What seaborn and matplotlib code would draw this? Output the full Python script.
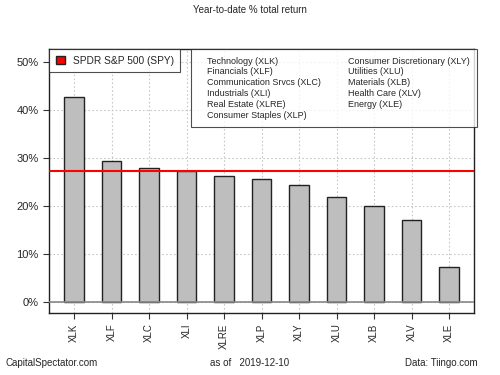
import matplotlib
matplotlib.use("Agg")
import matplotlib.pyplot as plt
import matplotlib.patches as mpatches
import matplotlib.lines as mlines
import seaborn as sns
import pandas as pd
from matplotlib.ticker import FuncFormatter

tickers = ["XLK", "XLF", "XLC", "XLI", "XLRE", "XLP", "XLY", "XLU", "XLB", "XLV", "XLE"]
returns = [42.6, 29.4, 27.9, 27.3, 26.2, 25.6, 24.3, 21.9, 20.0, 17.0, 7.2]
spy_return = 27.3
sector_names = ["Technology (XLK)", "Financials (XLF)", "Communication Srvcs (XLC)",
                "Industrials (XLI)", "Real Estate (XLRE)", "Consumer Staples (XLP)",
                "Consumer Discretionary (XLY)", "Utilities (XLU)", "Materials (XLB)",
                "Health Care (XLV)", "Energy (XLE)"]
yticks = [0, 10, 20, 30, 40, 50]

sns.set_style("white")
plt.rcParams['font.family'] = ['Liberation Sans', 'DejaVu Sans']

df = pd.DataFrame({"ticker": tickers, "ret": returns})

fig = plt.figure(figsize=(5, 3.75), dpi=100)
ax = fig.add_axes([49/500, 1-313/375, (474-49)/500, (313-49)/375])

for y in yticks:
    ax.axhline(y, color="#c8c8c8", lw=0.8, ls=(0, (1.5, 2)), zorder=0)
for i in range(len(tickers)):
    ax.axvline(i, color="#c8c8c8", lw=0.8, ls=(0, (1.5, 2)), zorder=0)

sns.barplot(data=df, x="ticker", y="ret", color="#BEBEBE", edgecolor="#222222",
            linewidth=1.0, width=0.52, ax=ax, zorder=2, saturation=1)
ax.axhline(0, color="#888888", lw=1.2, zorder=3)
ax.axhline(spy_return, color="#ff0000", lw=1.5, zorder=4)

ax.set_xlim(-0.67, 10.66)
ax.set_ylim(-2.3, 52.7)
ax.set_yticks(yticks)
ax.yaxis.set_major_formatter(FuncFormatter(lambda v, p: f"{int(v)}%"))
ax.set_xlabel("")
ax.set_ylabel("")
ax.tick_params(axis="x", rotation=90, labelsize=7, length=4, width=0.8, color="#333333", direction="out", bottom=True)
ax.tick_params(axis="y", labelsize=8, length=4, width=0.8, color="#333333", direction="out", left=True)
for s in ax.spines.values():
    s.set_color("#222222")
    s.set_linewidth(1.0)

h1 = mpatches.Patch(facecolor="#ff0000", edgecolor="#222222", label="SPDR S&P 500 (SPY)")
leg1 = ax.legend(handles=[h1], loc="upper left", bbox_to_anchor=(0, 1), fontsize=7.3,
                 frameon=True, fancybox=False, edgecolor="#222222", handlelength=0.9,
                 handleheight=0.9, borderaxespad=0, borderpad=0.65, handletextpad=0.8)
leg1.get_frame().set_linewidth(0.8)
ax.add_artist(leg1)

hs = [mlines.Line2D([], [], color="none", label=n) for n in sector_names]
leg2 = ax.legend(handles=hs, loc="upper right", bbox_to_anchor=(1.008, 1), ncol=2, fontsize=6.5,
                 frameon=True, fancybox=False, edgecolor="#222222", handlelength=0.9,
                 handletextpad=0, borderaxespad=0, borderpad=0.85, labelspacing=0.2,
                 columnspacing=2.1)
leg2.get_frame().set_linewidth(0.8)

fig.text(0.5, 1-10/375, "Year-to-date % total return", ha="center", va="center", fontsize=7)
fig.text(0.012, 1-363/375, "CapitalSpectator.com", ha="left", va="center", fontsize=7)
fig.text(0.5, 1-363/375, "as of   2019-12-10", ha="center", va="center", fontsize=7)
fig.text(0.955, 1-363/375, "Data: Tiingo.com", ha="right", va="center", fontsize=7)

fig.savefig("out.png", dpi=100)
